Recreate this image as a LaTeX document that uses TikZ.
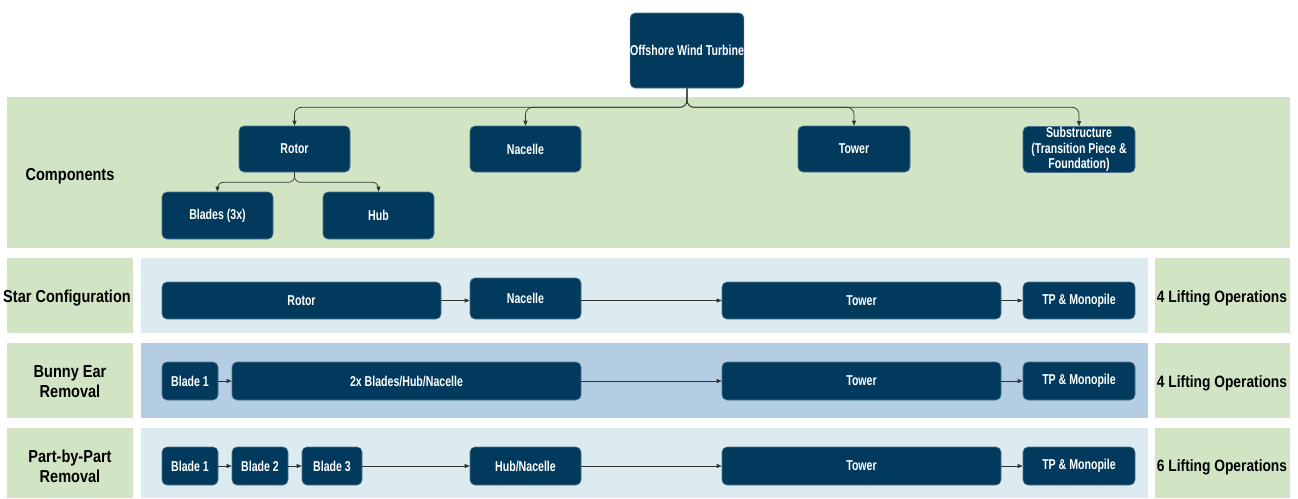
\documentclass[tikz,border=0pt]{standalone}
\usepackage{fontspec}
\setmainfont{Liberation Sans}
\newfontfamily\boxfont{Liberation Sans Bold}[FakeStretch=0.74]
\newfontfamily\labfont{Liberation Sans Bold}[FakeStretch=0.84]
\usetikzlibrary{arrows.meta}
\definecolor{navy}{HTML}{023A5E}
\definecolor{bandgreen}{HTML}{D1E5C4}
\definecolor{lightblue}{HTML}{DCEBF0}
\definecolor{midblue}{HTML}{B4CDE3}
\definecolor{linegray}{HTML}{333333}
\begin{document}
\begin{tikzpicture}[x=1pt,y=-1pt,
  bx/.style={draw=navy!70!white, line width=0.6pt, fill=navy, rounded corners=5pt, text=white,
    font=\boxfont\fontsize{14.3}{15.6}\selectfont, inner sep=0pt, align=center},
  lab/.style={font=\labfont\fontsize{17.3}{20}\selectfont, text=black, align=center, inner sep=0pt},
  ops/.style={font=\labfont\fontsize{16.4}{19}\selectfont, text=black, align=center, inner sep=0pt},
  arr/.style={draw=linegray, line width=0.7pt, -{Triangle[length=5pt,width=4pt]}}
]
\useasboundingbox (0,0) rectangle (1298,498);
\fill[white] (0,0) rectangle (1298,498);
% bands
\fill[bandgreen] (7,97) rectangle (1290,248);
\fill[bandgreen] (7,258) rectangle (133,333);
\fill[lightblue] (141,258) rectangle (1148,333);
\fill[bandgreen] (1155,258) rectangle (1290,333);
\fill[bandgreen] (7,343) rectangle (133,418);
\fill[midblue] (141,343) rectangle (1148,418);
\fill[bandgreen] (1155,343) rectangle (1290,418);
\fill[bandgreen] (7,428) rectangle (133,498);
\fill[lightblue] (141,428) rectangle (1148,498);
\fill[bandgreen] (1155,428) rectangle (1290,498);

% labels
\node[lab] (lcomp) at (70,176) {Components};
\node[lab] (lstar) at (67,298) {Star Configuration};
\node[lab] (lbunny) at (70,382) {Bunny Ear\\Removal};
\node[lab] (lpart) at (70,466) {Part-by-Part\\Removal};
\node[ops] (ops1) at (1222,298) {4 Lifting Operations};
\node[ops] (ops2) at (1222,383) {4 Lifting Operations};
\node[ops] (ops3) at (1222,467) {6 Lifting Operations};

% component tree
\node[bx, minimum width=112pt, minimum height=75pt] (owt) at (687,50.5) {Offshore Wind Turbine};
\node[bx, minimum width=111pt, minimum height=46pt] (rotor) at (294.5,149) {Rotor};
\node[bx, minimum width=111pt, minimum height=46pt] (nacelle) at (525.5,149) {Nacelle};
\node[bx, minimum width=112pt, minimum height=46pt] (tower) at (854,149) {Tower};
\node[bx, minimum width=112pt, minimum height=46pt] (sub) at (1079,149.5) {Substructure\\(Transition Piece \&\\Foundation)};
\node[bx, minimum width=111pt, minimum height=47pt] (blades) at (217.5,215.5) {Blades (3x)};
\node[bx, minimum width=111pt, minimum height=47pt] (hub) at (378.5,215.5) {Hub};

\draw[arr, rounded corners=7pt] (owt.south) -- ++(0,19) -| (rotor.north);
\draw[arr, rounded corners=7pt] (owt.south) -- ++(0,19) -| (nacelle.north);
\draw[arr, rounded corners=7pt] (owt.south) -- ++(0,19) -| (tower.north);
\draw[arr, rounded corners=7pt] (owt.south) -- ++(0,19) -| (sub.north);
\draw[arr, rounded corners=6pt] (rotor.south) -- ++(0,10) -| (blades.north);
\draw[arr, rounded corners=6pt] (rotor.south) -- ++(0,10) -| (hub.north);

% row 1: star configuration
\node[bx, minimum width=279pt, minimum height=37pt] (r1rotor) at (301.5,300.5) {Rotor};
\node[bx, minimum width=111pt, minimum height=41pt] (r1nac) at (525.5,298.5) {Nacelle};
\node[bx, minimum width=279pt, minimum height=37pt] (r1tower) at (861.5,300.5) {Tower};
\node[bx, minimum width=112pt, minimum height=37pt] (r1tp) at (1079,300.5) {TP \& Monopile};
\draw[arr] (r1rotor.east) -- (r1nac.west |- r1rotor.east);
\draw[arr] (r1nac.east |- r1tower.west) -- (r1tower.west);
\draw[arr] (r1tower.east) -- (r1tp.west);

% row 2: bunny ear
\node[bx, minimum width=56pt, minimum height=38pt] (r2b1) at (190,381) {Blade 1};
\node[bx, minimum width=349pt, minimum height=38pt] (r2bhn) at (406.5,381) {2x Blades/Hub/Nacelle};
\node[bx, minimum width=279pt, minimum height=38pt] (r2tower) at (861.5,381) {Tower};
\node[bx, minimum width=112pt, minimum height=38pt] (r2tp) at (1079,381) {TP \& Monopile};
\draw[arr] (r2b1.east) -- (r2bhn.west);
\draw[arr] (r2bhn.east) -- (r2tower.west);
\draw[arr] (r2tower.east) -- (r2tp.west);

% row 3: part-by-part
\node[bx, minimum width=56pt, minimum height=38pt] (r3b1) at (190,466) {Blade 1};
\node[bx, minimum width=56pt, minimum height=38pt] (r3b2) at (260,466) {Blade 2};
\node[bx, minimum width=60pt, minimum height=38pt] (r3b3) at (332,466) {Blade 3};
\node[bx, minimum width=111pt, minimum height=38pt] (r3hn) at (525.5,466) {Hub/Nacelle};
\node[bx, minimum width=279pt, minimum height=38pt] (r3tower) at (861.5,466) {Tower};
\node[bx, minimum width=112pt, minimum height=38pt] (r3tp) at (1079,466) {TP \& Monopile};
\draw[arr] (r3b1.east) -- (r3b2.west);
\draw[arr] (r3b2.east) -- (r3b3.west);
\draw[arr] (r3b3.east) -- (r3hn.west);
\draw[arr] (r3hn.east) -- (r3tower.west);
\draw[arr] (r3tower.east) -- (r3tp.west);
\end{tikzpicture}
\end{document}
